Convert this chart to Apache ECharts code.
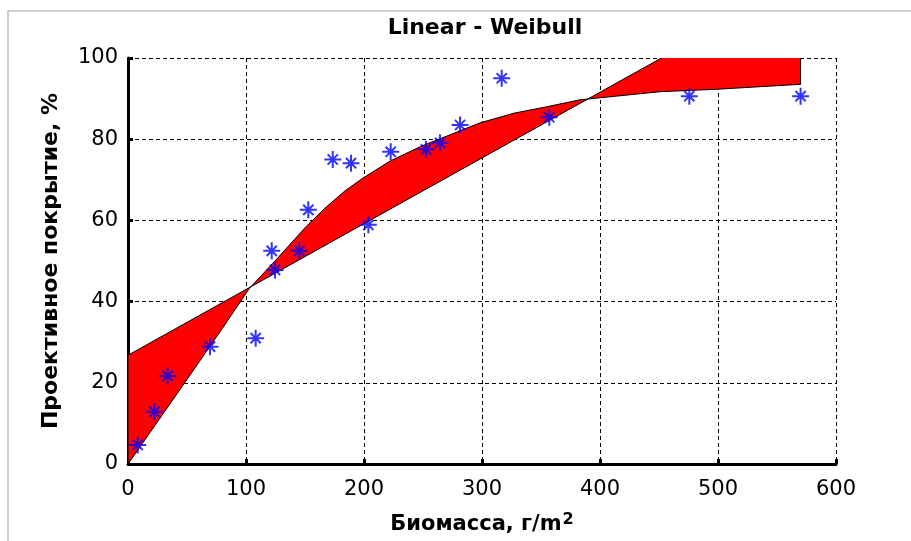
<!DOCTYPE html>
<html>
<head>
<meta charset="utf-8">
<script src="https://cdn.jsdelivr.net/npm/echarts@6/dist/echarts.min.js"></script>
<style>
html,body{margin:0;padding:0;background:#fff;}
#main{width:911px;height:541px;}
</style>
</head>
<body>
<div id="main"></div>
<script>
// точки наблюдений (биомасса, покрытие)
var obsX = [8.2, 22.3, 33.6, 69.5, 108.2, 121.8, 124.6, 145.2, 152.8, 173.5, 189, 203.7, 222.6, 252.5, 264.4, 281.4, 316.7, 357, 475.7, 570];
var obsY = [4.7, 12.9, 21.7, 28.9, 31, 52.5, 47.8, 52.5, 62.6, 75, 74.1, 58.9, 76.9, 77.5, 79.1, 83.5, 95, 85.4, 90.6, 90.6];

// линейная модель
var linX = [0, 570];
var linY = [26.8, 119.1];

// кривая Вейбулла
var weibX = [0, 31, 79, 103, 123, 151, 168, 184, 199, 222, 248, 298, 327, 355, 383, 451, 499, 557, 570];
var weibY = [0, 12.9, 33, 43.3, 49.5, 58.5, 63.3, 67.3, 70.4, 74.6, 78.2, 84, 86.4, 88, 89.7, 91.7, 92.3, 93.3, 93.5];

var xTicks = [0, 100, 200, 300, 400, 500, 600];
var yTicks = [0, 20, 40, 60, 80, 100];

// полигон между линией и кривой
var band = [];
for (var i = 0; i < linX.length; i++) band.push([linX[i], linY[i]]);
for (var j = weibX.length - 1; j >= 0; j--) band.push([weibX[j], weibY[j]]);

var pts = [];
for (var k = 0; k < obsX.length; k++) pts.push([obsX[k], obsY[k]]);

var myChart = echarts.init(document.getElementById('main'));
var font = 'DejaVu Sans, Arial, sans-serif';

myChart.setOption({
	animation: false,
	backgroundColor: '#fff',
	graphic: [{
		type: 'polyline',
		shape: { points: [[8, 541], [8, 11], [911, 11]] },
		style: { stroke: '#c0c0c0', lineWidth: 1.5, fill: null },
		silent: true
	}],
	title: {
		text: 'Linear - Weibull',
		left: 480,
		top: 12,
		textAlign: 'center',
		textStyle: { fontFamily: font, fontSize: 22, fontWeight: 'bold', color: '#000' }
	},
	grid: { left: 128, right: 75, top: 58, bottom: 77 },
	xAxis: {
		type: 'value', min: xTicks[0], max: xTicks[xTicks.length - 1], interval: 100,
		name: 'Биомасса, г/m{sup|2}',
		nameLocation: 'middle',
		nameGap: 48,
		nameTextStyle: {
			fontFamily: font, fontSize: 21, fontWeight: 'bold', color: '#000',
			rich: { sup: { fontFamily: font, fontSize: 16, fontWeight: 'bold', color: '#000', verticalAlign: 'top', padding: [0, 0, 9, 1] } }
		},
		axisLine: { lineStyle: { color: '#000', width: 3 } },
		axisTick: { inside: true, length: 5, lineStyle: { color: '#000', width: 3 } },
		axisLabel: { margin: 15, fontFamily: font, fontSize: 21, color: '#000' },
		splitLine: { lineStyle: { color: '#000', width: 1, type: [4, 3] } }
	},
	yAxis: {
		type: 'value', min: yTicks[0], max: yTicks[yTicks.length - 1], interval: 20,
		name: 'Проективное покрытие, %',
		nameLocation: 'middle',
		nameGap: 66,
		nameTextStyle: { fontFamily: font, fontSize: 22, fontWeight: 'bold', color: '#000' },
		axisLine: { lineStyle: { color: '#000', width: 3 } },
		axisTick: { inside: true, length: 5, lineStyle: { color: '#000', width: 3 } },
		axisLabel: { margin: 10, fontFamily: font, fontSize: 21, color: '#000' },
		splitLine: { lineStyle: { color: '#000', width: 1, type: [4, 3] } }
	},
	series: [{
		type: 'custom',
		clip: true,
		z: 3,
		data: [0],
		renderItem: function (params, api) {
			var p = band.map(function (d) { return api.coord(d); });
			return {
				type: 'polygon',
				shape: { points: p },
				style: { fill: '#ff0000', stroke: '#000', lineWidth: 1 }
			};
		}
	}, {
		type: 'scatter',
		z: 4,
		data: pts,
		symbol: 'path://M0,-1L0,1M-1,0L1,0M-0.6,-0.6L0.6,0.6M-0.6,0.6L0.6,-0.6',
		symbolSize: 17,
		itemStyle: { color: 'rgba(0,0,0,0)', borderColor: '#0000ff', borderWidth: 2 }
	}]
});
</script>
</body>
</html>
